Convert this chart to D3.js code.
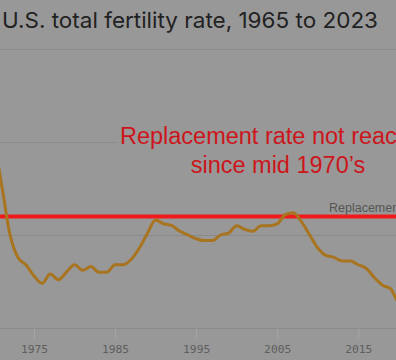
<!DOCTYPE html>
<html>
<head>
<meta charset="utf-8">
<script src="https://cdn.jsdelivr.net/npm/d3@7"></script>
<style>
  html, body { margin: 0; padding: 0; background: #989898; }
  svg { display: block; }
</style>
</head>
<body>
<svg id="chart" width="396" height="360"></svg>
<script>
// Data
const years = [1965,1966,1967,1968,1969,1970,1971,1972,1973,1974,1975,1976,1977,1978,1979,
  1980,1981,1982,1983,1984,1985,1986,1987,1988,1989,1990,1991,1992,1993,1994,1995,1996,1997,
  1998,1999,2000,2001,2002,2003,2004,2005,2006,2007,2008,2009,2010,2011,2012,2013,2014,2015,
  2016,2017,2018,2019,2020,2021,2022,2023];
const fertility = [2.91,2.74,2.57,2.48,2.46,2.48,2.27,2.01,1.88,1.84,1.78,1.74,1.79,1.76,1.80,
  1.84,1.81,1.83,1.80,1.80,1.84,1.84,1.87,1.93,2.01,2.08,2.06,2.05,2.02,2.00,1.98,1.97,1.97,
  2.00,2.01,2.05,2.03,2.02,2.05,2.05,2.06,2.11,2.12,2.07,2.00,1.93,1.89,1.88,1.86,1.86,1.84,
  1.82,1.77,1.73,1.71,1.64,1.66,1.66,1.62];
const replacementRate = 2.1;
const xTicks = [1975, 1985, 1995, 2005, 2015];
const yGrid = [1.5, 2.0, 2.5, 3.0];
const titleText = "U.S. total fertility rate, 1965 to 2023";
const annotationLines = ["Replacement rate not reached", "since mid 1970\u2019s"];
const replacementLabel = "Replacement";

const svg = d3.select("#chart");
const W = 396, H = 360;

svg.append("rect").attr("width", W).attr("height", H).attr("fill", "#989898");

// Scales (chart extends beyond the visible crop on both sides)
const x = d3.scaleLinear().domain([1975, 2015]).range([34, 358.3]);
const y = d3.scaleLinear().domain([1.5, 3.0]).range([328, 49]);

// Gridlines
svg.append("g").selectAll("line").data(yGrid).join("line")
  .attr("x1", 0).attr("x2", W)
  .attr("y1", d => Math.round(y(d)) + 0.5).attr("y2", d => Math.round(y(d)) + 0.5)
  .attr("stroke", "#8a8a8a").attr("stroke-width", 1);

// X axis
const xAxis = d3.axisBottom(x).tickValues(xTicks).tickFormat(d3.format("d"))
  .tickSize(10).tickPadding(6);
const gx = svg.append("g").attr("transform", `translate(0,${Math.round(y(1.5)) + 0.5})`).call(xAxis);
gx.select(".domain").remove();
gx.selectAll(".tick line").attr("stroke", "#a6a6a6");
gx.selectAll(".tick text")
  .attr("fill", "#5e5e5e")
  .style("font-family", "'DejaVu Sans Mono', 'Liberation Mono', monospace")
  .style("font-size", "11.3px");

// Annotation background (hides gridline behind text)
svg.append("rect").attr("x", 117).attr("y", 122).attr("width", W - 117).attr("height", 60)
  .attr("fill", "#989898");

// Replacement line
svg.append("line")
  .attr("x1", 0).attr("x2", W)
  .attr("y1", y(replacementRate)).attr("y2", y(replacementRate))
  .attr("stroke", "#f01a1a").attr("stroke-width", 4);

svg.append("text")
  .attr("x", 329).attr("y", y(replacementRate) - 4.5)
  .attr("fill", "#555555")
  .style("font-family", "'Liberation Sans', Arial, sans-serif")
  .style("font-size", "12.5px")
  .text(replacementLabel);

// Fertility line
const line = d3.line()
  .x((d, i) => x(years[i]))
  .y(d => y(d))
  .curve(d3.curveMonotoneX);
svg.append("path")
  .datum(fertility)
  .attr("d", line)
  .attr("fill", "none")
  .attr("stroke", "#a8741f")
  .attr("stroke-width", 3)
  .attr("stroke-linejoin", "round");

// Annotation
svg.append("g").selectAll("text").data(annotationLines).join("text")
  .attr("x", 278).attr("y", (d, i) => 144.3 + i * 29)
  .attr("text-anchor", "middle")
  .attr("fill", "#cc161c")
  .style("font-family", "'Liberation Sans', Arial, sans-serif")
  .style("font-size", "23.5px")
  .text(d => d);

// Title
svg.append("text")
  .attr("x", 2).attr("y", 28)
  .attr("fill", "#222222")
  .attr("textLength", 376).attr("lengthAdjust", "spacingAndGlyphs")
  .style("font-family", "Inter, 'Noto Sans', sans-serif")
  .style("font-size", "22px")
  .text(titleText);
</script>
</body>
</html>
